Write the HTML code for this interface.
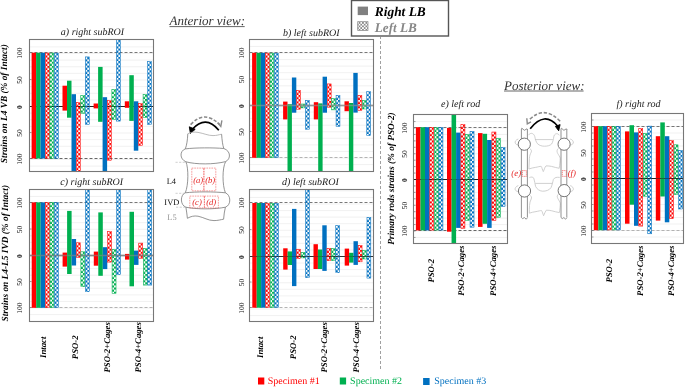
<!DOCTYPE html><html><head><meta charset="utf-8"><style>html,body{margin:0;padding:0;background:#fff;}svg{display:block;will-change:transform;filter:blur(0.35px);}text{font-family:"Liberation Serif",serif;text-rendering:geometricPrecision;}</style></head><body>
<svg width="685" height="387" viewBox="0 0 685 387">
<defs>
<pattern id="pr" x="0" y="0" width="4.2" height="4.3" patternUnits="userSpaceOnUse"><rect width="2.1" height="2.15" fill="#ff0000"/><rect x="2.1" y="2.15" width="2.1" height="2.15" fill="#ff0000"/></pattern>
<pattern id="pg" x="0" y="0" width="4.2" height="4.3" patternUnits="userSpaceOnUse"><rect width="2.1" height="2.15" fill="#00b050"/><rect x="2.1" y="2.15" width="2.1" height="2.15" fill="#00b050"/></pattern>
<pattern id="pb" x="0" y="0" width="4.2" height="4.3" patternUnits="userSpaceOnUse"><rect width="2.1" height="2.15" fill="#0070c0"/><rect x="2.1" y="2.15" width="2.1" height="2.15" fill="#0070c0"/></pattern>
<pattern id="pgray" x="0" y="0" width="3.4" height="3.4" patternUnits="userSpaceOnUse"><rect width="3.4" height="3.4" fill="#fff"/><rect width="1.7" height="1.7" fill="#888"/><rect x="1.7" y="1.7" width="1.7" height="1.7" fill="#888"/></pattern>
<clipPath id="clipa"><rect x="29.5" y="39.5" width="124.0" height="132.0"/></clipPath>
<clipPath id="clipb"><rect x="249.5" y="39.5" width="124.0" height="132.0"/></clipPath>
<clipPath id="clipc"><rect x="29.5" y="189.5" width="124.0" height="132.0"/></clipPath>
<clipPath id="clipd"><rect x="249.5" y="189.5" width="124.0" height="132.0"/></clipPath>
<clipPath id="clipe"><rect x="413.5" y="114.5" width="94.0" height="129.0"/></clipPath>
<clipPath id="clipf"><rect x="591.5" y="113.5" width="92.0" height="130.0"/></clipPath>
<pattern id="pa03" x="45.50" y="53.30" width="3.70" height="4.20" patternUnits="userSpaceOnUse"><rect x="1.85" width="1.85" height="2.1" fill="#ff0000"/><rect y="2.1" width="1.85" height="2.1" fill="#ff0000"/></pattern>
<pattern id="pa04" x="50.00" y="53.30" width="3.70" height="4.20" patternUnits="userSpaceOnUse"><rect x="1.85" width="1.85" height="2.1" fill="#00b050"/><rect y="2.1" width="1.85" height="2.1" fill="#00b050"/></pattern>
<pattern id="pa05" x="54.50" y="53.30" width="3.70" height="4.20" patternUnits="userSpaceOnUse"><rect x="1.85" width="1.85" height="2.1" fill="#0070c0"/><rect y="2.1" width="1.85" height="2.1" fill="#0070c0"/></pattern>
<pattern id="pa13" x="76.40" y="102.80" width="3.70" height="4.20" patternUnits="userSpaceOnUse"><rect x="1.85" width="1.85" height="2.1" fill="#ff0000"/><rect y="2.1" width="1.85" height="2.1" fill="#ff0000"/></pattern>
<pattern id="pa14" x="80.90" y="95.80" width="3.70" height="4.20" patternUnits="userSpaceOnUse"><rect x="1.85" width="1.85" height="2.1" fill="#00b050"/><rect y="2.1" width="1.85" height="2.1" fill="#00b050"/></pattern>
<pattern id="pa15" x="85.40" y="57.20" width="3.70" height="4.20" patternUnits="userSpaceOnUse"><rect x="1.85" width="1.85" height="2.1" fill="#0070c0"/><rect y="2.1" width="1.85" height="2.1" fill="#0070c0"/></pattern>
<pattern id="pa23" x="107.50" y="101.00" width="3.70" height="4.20" patternUnits="userSpaceOnUse"><rect x="1.85" width="1.85" height="2.1" fill="#ff0000"/><rect y="2.1" width="1.85" height="2.1" fill="#ff0000"/></pattern>
<pattern id="pa24" x="112.00" y="89.80" width="3.70" height="4.20" patternUnits="userSpaceOnUse"><rect x="1.85" width="1.85" height="2.1" fill="#00b050"/><rect y="2.1" width="1.85" height="2.1" fill="#00b050"/></pattern>
<pattern id="pa25" x="116.50" y="40.10" width="3.70" height="4.20" patternUnits="userSpaceOnUse"><rect x="1.85" width="1.85" height="2.1" fill="#0070c0"/><rect y="2.1" width="1.85" height="2.1" fill="#0070c0"/></pattern>
<pattern id="pa33" x="138.70" y="103.80" width="3.70" height="4.20" patternUnits="userSpaceOnUse"><rect x="1.85" width="1.85" height="2.1" fill="#ff0000"/><rect y="2.1" width="1.85" height="2.1" fill="#ff0000"/></pattern>
<pattern id="pa34" x="143.20" y="94.80" width="3.70" height="4.20" patternUnits="userSpaceOnUse"><rect x="1.85" width="1.85" height="2.1" fill="#00b050"/><rect y="2.1" width="1.85" height="2.1" fill="#00b050"/></pattern>
<pattern id="pa35" x="147.70" y="61.90" width="3.70" height="4.20" patternUnits="userSpaceOnUse"><rect x="1.85" width="1.85" height="2.1" fill="#0070c0"/><rect y="2.1" width="1.85" height="2.1" fill="#0070c0"/></pattern>
<pattern id="pb03" x="265.70" y="53.40" width="3.60" height="4.20" patternUnits="userSpaceOnUse"><rect x="1.80" width="1.80" height="2.1" fill="#ff0000"/><rect y="2.1" width="1.80" height="2.1" fill="#ff0000"/></pattern>
<pattern id="pb04" x="270.10" y="53.40" width="3.60" height="4.20" patternUnits="userSpaceOnUse"><rect x="1.80" width="1.80" height="2.1" fill="#00b050"/><rect y="2.1" width="1.80" height="2.1" fill="#00b050"/></pattern>
<pattern id="pb05" x="274.50" y="53.40" width="3.60" height="4.20" patternUnits="userSpaceOnUse"><rect x="1.80" width="1.80" height="2.1" fill="#0070c0"/><rect y="2.1" width="1.80" height="2.1" fill="#0070c0"/></pattern>
<pattern id="pb13" x="296.70" y="90.80" width="3.60" height="4.20" patternUnits="userSpaceOnUse"><rect x="1.80" width="1.80" height="2.1" fill="#ff0000"/><rect y="2.1" width="1.80" height="2.1" fill="#ff0000"/></pattern>
<pattern id="pb14" x="301.10" y="104.30" width="3.60" height="4.20" patternUnits="userSpaceOnUse"><rect x="1.80" width="1.80" height="2.1" fill="#00b050"/><rect y="2.1" width="1.80" height="2.1" fill="#00b050"/></pattern>
<pattern id="pb15" x="305.50" y="100.60" width="3.60" height="4.20" patternUnits="userSpaceOnUse"><rect x="1.80" width="1.80" height="2.1" fill="#0070c0"/><rect y="2.1" width="1.80" height="2.1" fill="#0070c0"/></pattern>
<pattern id="pb23" x="327.40" y="84.20" width="3.60" height="4.20" patternUnits="userSpaceOnUse"><rect x="1.80" width="1.80" height="2.1" fill="#ff0000"/><rect y="2.1" width="1.80" height="2.1" fill="#ff0000"/></pattern>
<pattern id="pb24" x="331.80" y="98.80" width="3.60" height="4.20" patternUnits="userSpaceOnUse"><rect x="1.80" width="1.80" height="2.1" fill="#00b050"/><rect y="2.1" width="1.80" height="2.1" fill="#00b050"/></pattern>
<pattern id="pb25" x="336.20" y="95.80" width="3.60" height="4.20" patternUnits="userSpaceOnUse"><rect x="1.80" width="1.80" height="2.1" fill="#0070c0"/><rect y="2.1" width="1.80" height="2.1" fill="#0070c0"/></pattern>
<pattern id="pb33" x="358.10" y="95.70" width="3.60" height="4.20" patternUnits="userSpaceOnUse"><rect x="1.80" width="1.80" height="2.1" fill="#ff0000"/><rect y="2.1" width="1.80" height="2.1" fill="#ff0000"/></pattern>
<pattern id="pb34" x="362.50" y="100.60" width="3.60" height="4.20" patternUnits="userSpaceOnUse"><rect x="1.80" width="1.80" height="2.1" fill="#00b050"/><rect y="2.1" width="1.80" height="2.1" fill="#00b050"/></pattern>
<pattern id="pb35" x="366.90" y="92.00" width="3.60" height="4.20" patternUnits="userSpaceOnUse"><rect x="1.80" width="1.80" height="2.1" fill="#0070c0"/><rect y="2.1" width="1.80" height="2.1" fill="#0070c0"/></pattern>
<pattern id="pc03" x="45.60" y="203.00" width="3.70" height="4.20" patternUnits="userSpaceOnUse"><rect x="1.85" width="1.85" height="2.1" fill="#ff0000"/><rect y="2.1" width="1.85" height="2.1" fill="#ff0000"/></pattern>
<pattern id="pc04" x="50.10" y="203.00" width="3.70" height="4.20" patternUnits="userSpaceOnUse"><rect x="1.85" width="1.85" height="2.1" fill="#00b050"/><rect y="2.1" width="1.85" height="2.1" fill="#00b050"/></pattern>
<pattern id="pc05" x="54.60" y="203.00" width="3.70" height="4.20" patternUnits="userSpaceOnUse"><rect x="1.85" width="1.85" height="2.1" fill="#0070c0"/><rect y="2.1" width="1.85" height="2.1" fill="#0070c0"/></pattern>
<pattern id="pc13" x="76.50" y="243.10" width="3.70" height="4.20" patternUnits="userSpaceOnUse"><rect x="1.85" width="1.85" height="2.1" fill="#ff0000"/><rect y="2.1" width="1.85" height="2.1" fill="#ff0000"/></pattern>
<pattern id="pc14" x="81.00" y="252.10" width="3.70" height="4.20" patternUnits="userSpaceOnUse"><rect x="1.85" width="1.85" height="2.1" fill="#00b050"/><rect y="2.1" width="1.85" height="2.1" fill="#00b050"/></pattern>
<pattern id="pc15" x="85.50" y="190.10" width="3.70" height="4.20" patternUnits="userSpaceOnUse"><rect x="1.85" width="1.85" height="2.1" fill="#0070c0"/><rect y="2.1" width="1.85" height="2.1" fill="#0070c0"/></pattern>
<pattern id="pc23" x="107.70" y="231.90" width="3.70" height="4.20" patternUnits="userSpaceOnUse"><rect x="1.85" width="1.85" height="2.1" fill="#ff0000"/><rect y="2.1" width="1.85" height="2.1" fill="#ff0000"/></pattern>
<pattern id="pc24" x="112.20" y="249.70" width="3.70" height="4.20" patternUnits="userSpaceOnUse"><rect x="1.85" width="1.85" height="2.1" fill="#00b050"/><rect y="2.1" width="1.85" height="2.1" fill="#00b050"/></pattern>
<pattern id="pc25" x="116.70" y="190.10" width="3.70" height="4.20" patternUnits="userSpaceOnUse"><rect x="1.85" width="1.85" height="2.1" fill="#0070c0"/><rect y="2.1" width="1.85" height="2.1" fill="#0070c0"/></pattern>
<pattern id="pc33" x="138.90" y="243.40" width="3.70" height="4.20" patternUnits="userSpaceOnUse"><rect x="1.85" width="1.85" height="2.1" fill="#ff0000"/><rect y="2.1" width="1.85" height="2.1" fill="#ff0000"/></pattern>
<pattern id="pc34" x="143.40" y="248.70" width="3.70" height="4.20" patternUnits="userSpaceOnUse"><rect x="1.85" width="1.85" height="2.1" fill="#00b050"/><rect y="2.1" width="1.85" height="2.1" fill="#00b050"/></pattern>
<pattern id="pc35" x="147.90" y="190.10" width="3.70" height="4.20" patternUnits="userSpaceOnUse"><rect x="1.85" width="1.85" height="2.1" fill="#0070c0"/><rect y="2.1" width="1.85" height="2.1" fill="#0070c0"/></pattern>
<pattern id="pd03" x="265.90" y="203.60" width="3.60" height="4.20" patternUnits="userSpaceOnUse"><rect x="1.80" width="1.80" height="2.1" fill="#ff0000"/><rect y="2.1" width="1.80" height="2.1" fill="#ff0000"/></pattern>
<pattern id="pd04" x="270.30" y="203.60" width="3.60" height="4.20" patternUnits="userSpaceOnUse"><rect x="1.80" width="1.80" height="2.1" fill="#00b050"/><rect y="2.1" width="1.80" height="2.1" fill="#00b050"/></pattern>
<pattern id="pd05" x="274.70" y="203.60" width="3.60" height="4.20" patternUnits="userSpaceOnUse"><rect x="1.80" width="1.80" height="2.1" fill="#0070c0"/><rect y="2.1" width="1.80" height="2.1" fill="#0070c0"/></pattern>
<pattern id="pd13" x="296.80" y="249.50" width="3.60" height="4.20" patternUnits="userSpaceOnUse"><rect x="1.80" width="1.80" height="2.1" fill="#ff0000"/><rect y="2.1" width="1.80" height="2.1" fill="#ff0000"/></pattern>
<pattern id="pd14" x="301.20" y="252.60" width="3.60" height="4.20" patternUnits="userSpaceOnUse"><rect x="1.80" width="1.80" height="2.1" fill="#00b050"/><rect y="2.1" width="1.80" height="2.1" fill="#00b050"/></pattern>
<pattern id="pd15" x="305.60" y="190.10" width="3.60" height="4.20" patternUnits="userSpaceOnUse"><rect x="1.80" width="1.80" height="2.1" fill="#0070c0"/><rect y="2.1" width="1.80" height="2.1" fill="#0070c0"/></pattern>
<pattern id="pd23" x="327.10" y="248.70" width="3.60" height="4.20" patternUnits="userSpaceOnUse"><rect x="1.80" width="1.80" height="2.1" fill="#ff0000"/><rect y="2.1" width="1.80" height="2.1" fill="#ff0000"/></pattern>
<pattern id="pd24" x="331.50" y="248.70" width="3.60" height="4.20" patternUnits="userSpaceOnUse"><rect x="1.80" width="1.80" height="2.1" fill="#00b050"/><rect y="2.1" width="1.80" height="2.1" fill="#00b050"/></pattern>
<pattern id="pd25" x="335.90" y="225.90" width="3.60" height="4.20" patternUnits="userSpaceOnUse"><rect x="1.80" width="1.80" height="2.1" fill="#0070c0"/><rect y="2.1" width="1.80" height="2.1" fill="#0070c0"/></pattern>
<pattern id="pd33" x="358.30" y="245.70" width="3.60" height="4.20" patternUnits="userSpaceOnUse"><rect x="1.80" width="1.80" height="2.1" fill="#ff0000"/><rect y="2.1" width="1.80" height="2.1" fill="#ff0000"/></pattern>
<pattern id="pd34" x="362.70" y="250.60" width="3.60" height="4.20" patternUnits="userSpaceOnUse"><rect x="1.80" width="1.80" height="2.1" fill="#00b050"/><rect y="2.1" width="1.80" height="2.1" fill="#00b050"/></pattern>
<pattern id="pd35" x="367.10" y="217.80" width="3.60" height="4.20" patternUnits="userSpaceOnUse"><rect x="1.80" width="1.80" height="2.1" fill="#0070c0"/><rect y="2.1" width="1.80" height="2.1" fill="#0070c0"/></pattern>
<pattern id="pe03" x="429.95" y="127.80" width="3.75" height="4.20" patternUnits="userSpaceOnUse"><rect x="1.88" width="1.88" height="2.1" fill="#ff0000"/><rect y="2.1" width="1.88" height="2.1" fill="#ff0000"/></pattern>
<pattern id="pe04" x="434.50" y="127.80" width="3.75" height="4.20" patternUnits="userSpaceOnUse"><rect x="1.88" width="1.88" height="2.1" fill="#00b050"/><rect y="2.1" width="1.88" height="2.1" fill="#00b050"/></pattern>
<pattern id="pe05" x="439.05" y="127.80" width="3.75" height="4.20" patternUnits="userSpaceOnUse"><rect x="1.88" width="1.88" height="2.1" fill="#0070c0"/><rect y="2.1" width="1.88" height="2.1" fill="#0070c0"/></pattern>
<pattern id="pe13" x="461.05" y="124.90" width="3.75" height="4.20" patternUnits="userSpaceOnUse"><rect x="1.88" width="1.88" height="2.1" fill="#ff0000"/><rect y="2.1" width="1.88" height="2.1" fill="#ff0000"/></pattern>
<pattern id="pe14" x="465.60" y="134.70" width="3.75" height="4.20" patternUnits="userSpaceOnUse"><rect x="1.88" width="1.88" height="2.1" fill="#00b050"/><rect y="2.1" width="1.88" height="2.1" fill="#00b050"/></pattern>
<pattern id="pe15" x="470.15" y="131.60" width="3.75" height="4.20" patternUnits="userSpaceOnUse"><rect x="1.88" width="1.88" height="2.1" fill="#0070c0"/><rect y="2.1" width="1.88" height="2.1" fill="#0070c0"/></pattern>
<pattern id="pe23" x="492.05" y="132.30" width="3.75" height="4.20" patternUnits="userSpaceOnUse"><rect x="1.88" width="1.88" height="2.1" fill="#ff0000"/><rect y="2.1" width="1.88" height="2.1" fill="#ff0000"/></pattern>
<pattern id="pe24" x="496.60" y="138.50" width="3.75" height="4.20" patternUnits="userSpaceOnUse"><rect x="1.88" width="1.88" height="2.1" fill="#00b050"/><rect y="2.1" width="1.88" height="2.1" fill="#00b050"/></pattern>
<pattern id="pe25" x="501.15" y="147.80" width="3.75" height="4.20" patternUnits="userSpaceOnUse"><rect x="1.88" width="1.88" height="2.1" fill="#0070c0"/><rect y="2.1" width="1.88" height="2.1" fill="#0070c0"/></pattern>
<pattern id="pf03" x="607.70" y="126.80" width="3.70" height="4.20" patternUnits="userSpaceOnUse"><rect x="1.85" width="1.85" height="2.1" fill="#ff0000"/><rect y="2.1" width="1.85" height="2.1" fill="#ff0000"/></pattern>
<pattern id="pf04" x="612.20" y="126.80" width="3.70" height="4.20" patternUnits="userSpaceOnUse"><rect x="1.85" width="1.85" height="2.1" fill="#00b050"/><rect y="2.1" width="1.85" height="2.1" fill="#00b050"/></pattern>
<pattern id="pf05" x="616.70" y="126.80" width="3.70" height="4.20" patternUnits="userSpaceOnUse"><rect x="1.85" width="1.85" height="2.1" fill="#0070c0"/><rect y="2.1" width="1.85" height="2.1" fill="#0070c0"/></pattern>
<pattern id="pf13" x="638.90" y="128.90" width="3.70" height="4.20" patternUnits="userSpaceOnUse"><rect x="1.85" width="1.85" height="2.1" fill="#ff0000"/><rect y="2.1" width="1.85" height="2.1" fill="#ff0000"/></pattern>
<pattern id="pf14" x="643.40" y="133.60" width="3.70" height="4.20" patternUnits="userSpaceOnUse"><rect x="1.85" width="1.85" height="2.1" fill="#00b050"/><rect y="2.1" width="1.85" height="2.1" fill="#00b050"/></pattern>
<pattern id="pf15" x="647.90" y="126.40" width="3.70" height="4.20" patternUnits="userSpaceOnUse"><rect x="1.85" width="1.85" height="2.1" fill="#0070c0"/><rect y="2.1" width="1.85" height="2.1" fill="#0070c0"/></pattern>
<pattern id="pf23" x="669.70" y="141.00" width="3.70" height="4.20" patternUnits="userSpaceOnUse"><rect x="1.85" width="1.85" height="2.1" fill="#ff0000"/><rect y="2.1" width="1.85" height="2.1" fill="#ff0000"/></pattern>
<pattern id="pf24" x="674.20" y="145.10" width="3.70" height="4.20" patternUnits="userSpaceOnUse"><rect x="1.85" width="1.85" height="2.1" fill="#00b050"/><rect y="2.1" width="1.85" height="2.1" fill="#00b050"/></pattern>
<pattern id="pf25" x="678.70" y="150.70" width="3.70" height="4.20" patternUnits="userSpaceOnUse"><rect x="1.85" width="1.85" height="2.1" fill="#0070c0"/><rect y="2.1" width="1.85" height="2.1" fill="#0070c0"/></pattern>
</defs>
<rect width="685" height="387" fill="#fff"/>
<line x1="29.5" y1="46.88" x2="153.5" y2="46.88" stroke="#eeeeee" stroke-width="0.8"/>
<line x1="29.5" y1="53.50" x2="153.5" y2="53.50" stroke="#eeeeee" stroke-width="0.8"/>
<line x1="29.5" y1="60.12" x2="153.5" y2="60.12" stroke="#eeeeee" stroke-width="0.8"/>
<line x1="29.5" y1="66.75" x2="153.5" y2="66.75" stroke="#eeeeee" stroke-width="0.8"/>
<line x1="29.5" y1="73.38" x2="153.5" y2="73.38" stroke="#eeeeee" stroke-width="0.8"/>
<line x1="29.5" y1="80.00" x2="153.5" y2="80.00" stroke="#eeeeee" stroke-width="0.8"/>
<line x1="29.5" y1="86.62" x2="153.5" y2="86.62" stroke="#eeeeee" stroke-width="0.8"/>
<line x1="29.5" y1="93.25" x2="153.5" y2="93.25" stroke="#eeeeee" stroke-width="0.8"/>
<line x1="29.5" y1="99.88" x2="153.5" y2="99.88" stroke="#eeeeee" stroke-width="0.8"/>
<line x1="29.5" y1="106.50" x2="153.5" y2="106.50" stroke="#eeeeee" stroke-width="0.8"/>
<line x1="29.5" y1="113.12" x2="153.5" y2="113.12" stroke="#eeeeee" stroke-width="0.8"/>
<line x1="29.5" y1="119.75" x2="153.5" y2="119.75" stroke="#eeeeee" stroke-width="0.8"/>
<line x1="29.5" y1="126.38" x2="153.5" y2="126.38" stroke="#eeeeee" stroke-width="0.8"/>
<line x1="29.5" y1="133.00" x2="153.5" y2="133.00" stroke="#eeeeee" stroke-width="0.8"/>
<line x1="29.5" y1="139.62" x2="153.5" y2="139.62" stroke="#eeeeee" stroke-width="0.8"/>
<line x1="29.5" y1="146.25" x2="153.5" y2="146.25" stroke="#eeeeee" stroke-width="0.8"/>
<line x1="29.5" y1="152.88" x2="153.5" y2="152.88" stroke="#eeeeee" stroke-width="0.8"/>
<line x1="29.5" y1="159.50" x2="153.5" y2="159.50" stroke="#eeeeee" stroke-width="0.8"/>
<line x1="29.5" y1="166.12" x2="153.5" y2="166.12" stroke="#eeeeee" stroke-width="0.8"/>
<line x1="29.5" y1="52.5" x2="153.5" y2="52.5" stroke="#555" stroke-width="0.8" stroke-dasharray="3,2"/>
<line x1="29.5" y1="158.5" x2="153.5" y2="158.5" stroke="#555" stroke-width="0.9" stroke-dasharray="3,2"/>
<line x1="29.5" y1="52.50" x2="31.5" y2="52.50" stroke="#777" stroke-width="0.7"/>
<line x1="29.5" y1="79.50" x2="31.5" y2="79.50" stroke="#777" stroke-width="0.7"/>
<line x1="29.5" y1="106.50" x2="31.5" y2="106.50" stroke="#777" stroke-width="0.7"/>
<line x1="29.5" y1="132.50" x2="31.5" y2="132.50" stroke="#777" stroke-width="0.7"/>
<line x1="29.5" y1="158.50" x2="31.5" y2="158.50" stroke="#777" stroke-width="0.7"/>
<line x1="29.5" y1="106.5" x2="153.5" y2="106.5" stroke="#222" stroke-width="1.0"/>
<g clip-path="url(#clipa)">
<rect x="31.60" y="52.7" width="4.50" height="105.80" fill="#ff0000"/>
<rect x="36.10" y="52.7" width="4.50" height="105.80" fill="#00b050"/>
<rect x="40.60" y="52.7" width="4.50" height="105.80" fill="#0070c0"/>
<rect x="45.35" y="53.00" width="4.00" height="105.20" fill="url(#pa03)" stroke="#ff0000" stroke-width="0.5"/>
<rect x="49.85" y="53.00" width="4.00" height="105.20" fill="url(#pa04)" stroke="#00b050" stroke-width="0.5"/>
<rect x="54.35" y="53.00" width="4.00" height="105.20" fill="url(#pa05)" stroke="#0070c0" stroke-width="0.5"/>
<rect x="62.50" y="85.7" width="4.50" height="24.90" fill="#ff0000"/>
<rect x="67.00" y="80.7" width="4.50" height="37.00" fill="#00b050"/>
<rect x="71.50" y="94.2" width="4.50" height="77.30" fill="#0070c0"/>
<rect x="76.25" y="102.50" width="4.00" height="68.70" fill="url(#pa13)" stroke="#ff0000" stroke-width="0.5"/>
<rect x="80.75" y="95.50" width="4.00" height="17.80" fill="url(#pa14)" stroke="#00b050" stroke-width="0.5"/>
<rect x="85.25" y="56.90" width="4.00" height="67.40" fill="url(#pa15)" stroke="#0070c0" stroke-width="0.5"/>
<rect x="93.60" y="103.5" width="4.50" height="4.90" fill="#ff0000"/>
<rect x="98.10" y="66.9" width="4.50" height="54.90" fill="#00b050"/>
<rect x="102.60" y="97.2" width="4.50" height="74.30" fill="#0070c0"/>
<rect x="107.35" y="100.70" width="4.00" height="59.50" fill="url(#pa23)" stroke="#ff0000" stroke-width="0.5"/>
<rect x="111.85" y="89.50" width="4.00" height="29.80" fill="url(#pa24)" stroke="#00b050" stroke-width="0.5"/>
<rect x="116.35" y="39.80" width="4.00" height="81.30" fill="url(#pa25)" stroke="#0070c0" stroke-width="0.5"/>
<rect x="124.80" y="101.3" width="4.50" height="6.50" fill="#ff0000"/>
<rect x="129.30" y="75.2" width="4.50" height="45.70" fill="#00b050"/>
<rect x="133.80" y="101.3" width="4.50" height="49.40" fill="#0070c0"/>
<rect x="138.55" y="103.50" width="4.00" height="41.80" fill="url(#pa33)" stroke="#ff0000" stroke-width="0.5"/>
<rect x="143.05" y="94.50" width="4.00" height="22.90" fill="url(#pa34)" stroke="#00b050" stroke-width="0.5"/>
<rect x="147.55" y="61.60" width="4.00" height="62.70" fill="url(#pa35)" stroke="#0070c0" stroke-width="0.5"/>
</g>
<line x1="29.5" y1="106.5" x2="153.5" y2="106.5" stroke="#222" stroke-width="1.0" stroke-opacity="0.0"/>
<rect x="29.5" y="39.5" width="124.0" height="132.0" fill="none" stroke="#777" stroke-width="1.1"/>
<line x1="249.5" y1="46.44" x2="373.5" y2="46.44" stroke="#eeeeee" stroke-width="0.8"/>
<line x1="249.5" y1="53.00" x2="373.5" y2="53.00" stroke="#eeeeee" stroke-width="0.8"/>
<line x1="249.5" y1="59.56" x2="373.5" y2="59.56" stroke="#eeeeee" stroke-width="0.8"/>
<line x1="249.5" y1="66.12" x2="373.5" y2="66.12" stroke="#eeeeee" stroke-width="0.8"/>
<line x1="249.5" y1="72.69" x2="373.5" y2="72.69" stroke="#eeeeee" stroke-width="0.8"/>
<line x1="249.5" y1="79.25" x2="373.5" y2="79.25" stroke="#eeeeee" stroke-width="0.8"/>
<line x1="249.5" y1="85.81" x2="373.5" y2="85.81" stroke="#eeeeee" stroke-width="0.8"/>
<line x1="249.5" y1="92.38" x2="373.5" y2="92.38" stroke="#eeeeee" stroke-width="0.8"/>
<line x1="249.5" y1="98.94" x2="373.5" y2="98.94" stroke="#eeeeee" stroke-width="0.8"/>
<line x1="249.5" y1="105.50" x2="373.5" y2="105.50" stroke="#eeeeee" stroke-width="0.8"/>
<line x1="249.5" y1="112.06" x2="373.5" y2="112.06" stroke="#eeeeee" stroke-width="0.8"/>
<line x1="249.5" y1="118.62" x2="373.5" y2="118.62" stroke="#eeeeee" stroke-width="0.8"/>
<line x1="249.5" y1="125.19" x2="373.5" y2="125.19" stroke="#eeeeee" stroke-width="0.8"/>
<line x1="249.5" y1="131.75" x2="373.5" y2="131.75" stroke="#eeeeee" stroke-width="0.8"/>
<line x1="249.5" y1="138.31" x2="373.5" y2="138.31" stroke="#eeeeee" stroke-width="0.8"/>
<line x1="249.5" y1="144.88" x2="373.5" y2="144.88" stroke="#eeeeee" stroke-width="0.8"/>
<line x1="249.5" y1="151.44" x2="373.5" y2="151.44" stroke="#eeeeee" stroke-width="0.8"/>
<line x1="249.5" y1="158.00" x2="373.5" y2="158.00" stroke="#eeeeee" stroke-width="0.8"/>
<line x1="249.5" y1="164.56" x2="373.5" y2="164.56" stroke="#eeeeee" stroke-width="0.8"/>
<line x1="249.5" y1="52.5" x2="373.5" y2="52.5" stroke="#555" stroke-width="0.8" stroke-dasharray="3,2"/>
<line x1="249.5" y1="157.5" x2="373.5" y2="157.5" stroke="#aaa" stroke-width="0.9" stroke-dasharray="3,2"/>
<line x1="249.5" y1="52.50" x2="251.5" y2="52.50" stroke="#777" stroke-width="0.7"/>
<line x1="249.5" y1="79.00" x2="251.5" y2="79.00" stroke="#777" stroke-width="0.7"/>
<line x1="249.5" y1="105.50" x2="251.5" y2="105.50" stroke="#777" stroke-width="0.7"/>
<line x1="249.5" y1="131.50" x2="251.5" y2="131.50" stroke="#777" stroke-width="0.7"/>
<line x1="249.5" y1="157.50" x2="251.5" y2="157.50" stroke="#777" stroke-width="0.7"/>
<line x1="249.5" y1="105.5" x2="373.5" y2="105.5" stroke="#999" stroke-width="1.4"/>
<g clip-path="url(#clipb)">
<rect x="252.10" y="52.8" width="4.40" height="105.00" fill="#ff0000"/>
<rect x="256.50" y="52.8" width="4.40" height="105.00" fill="#00b050"/>
<rect x="260.90" y="52.8" width="4.40" height="105.00" fill="#0070c0"/>
<rect x="265.55" y="53.10" width="3.90" height="104.40" fill="url(#pb03)" stroke="#ff0000" stroke-width="0.5"/>
<rect x="269.95" y="53.10" width="3.90" height="104.40" fill="url(#pb04)" stroke="#00b050" stroke-width="0.5"/>
<rect x="274.35" y="53.10" width="3.90" height="104.40" fill="url(#pb05)" stroke="#0070c0" stroke-width="0.5"/>
<rect x="283.10" y="101.6" width="4.40" height="17.80" fill="#ff0000"/>
<rect x="287.50" y="104.2" width="4.40" height="67.30" fill="#00b050"/>
<rect x="291.90" y="77.5" width="4.40" height="35.20" fill="#0070c0"/>
<rect x="296.55" y="90.50" width="3.90" height="18.70" fill="url(#pb13)" stroke="#ff0000" stroke-width="0.5"/>
<rect x="300.95" y="104.00" width="3.90" height="3.90" fill="url(#pb14)" stroke="#00b050" stroke-width="0.5"/>
<rect x="305.35" y="100.30" width="3.90" height="28.90" fill="url(#pb15)" stroke="#0070c0" stroke-width="0.5"/>
<rect x="313.80" y="102.2" width="4.40" height="17.20" fill="#ff0000"/>
<rect x="318.20" y="103.4" width="4.40" height="68.10" fill="#00b050"/>
<rect x="322.60" y="76.7" width="4.40" height="36.00" fill="#0070c0"/>
<rect x="327.25" y="83.90" width="3.90" height="23.30" fill="url(#pb23)" stroke="#ff0000" stroke-width="0.5"/>
<rect x="331.65" y="98.50" width="3.90" height="11.40" fill="url(#pb24)" stroke="#00b050" stroke-width="0.5"/>
<rect x="336.05" y="95.50" width="3.90" height="30.80" fill="url(#pb25)" stroke="#0070c0" stroke-width="0.5"/>
<rect x="344.50" y="101.3" width="4.40" height="9.90" fill="#ff0000"/>
<rect x="348.90" y="103" width="4.40" height="68.50" fill="#00b050"/>
<rect x="353.30" y="72.9" width="4.40" height="39.70" fill="#0070c0"/>
<rect x="357.95" y="95.40" width="3.90" height="15.00" fill="url(#pb33)" stroke="#ff0000" stroke-width="0.5"/>
<rect x="362.35" y="100.30" width="3.90" height="8.70" fill="url(#pb34)" stroke="#00b050" stroke-width="0.5"/>
<rect x="366.75" y="91.70" width="3.90" height="43.90" fill="url(#pb35)" stroke="#0070c0" stroke-width="0.5"/>
</g>
<line x1="249.5" y1="105.5" x2="373.5" y2="105.5" stroke="#999" stroke-width="1.4" stroke-opacity="0.6"/>
<rect x="249.5" y="39.5" width="124.0" height="132.0" fill="none" stroke="#777" stroke-width="1.1"/>
<line x1="29.5" y1="196.44" x2="153.5" y2="196.44" stroke="#eeeeee" stroke-width="0.8"/>
<line x1="29.5" y1="203.00" x2="153.5" y2="203.00" stroke="#eeeeee" stroke-width="0.8"/>
<line x1="29.5" y1="209.56" x2="153.5" y2="209.56" stroke="#eeeeee" stroke-width="0.8"/>
<line x1="29.5" y1="216.12" x2="153.5" y2="216.12" stroke="#eeeeee" stroke-width="0.8"/>
<line x1="29.5" y1="222.69" x2="153.5" y2="222.69" stroke="#eeeeee" stroke-width="0.8"/>
<line x1="29.5" y1="229.25" x2="153.5" y2="229.25" stroke="#eeeeee" stroke-width="0.8"/>
<line x1="29.5" y1="235.81" x2="153.5" y2="235.81" stroke="#eeeeee" stroke-width="0.8"/>
<line x1="29.5" y1="242.38" x2="153.5" y2="242.38" stroke="#eeeeee" stroke-width="0.8"/>
<line x1="29.5" y1="248.94" x2="153.5" y2="248.94" stroke="#eeeeee" stroke-width="0.8"/>
<line x1="29.5" y1="255.50" x2="153.5" y2="255.50" stroke="#eeeeee" stroke-width="0.8"/>
<line x1="29.5" y1="262.06" x2="153.5" y2="262.06" stroke="#eeeeee" stroke-width="0.8"/>
<line x1="29.5" y1="268.62" x2="153.5" y2="268.62" stroke="#eeeeee" stroke-width="0.8"/>
<line x1="29.5" y1="275.19" x2="153.5" y2="275.19" stroke="#eeeeee" stroke-width="0.8"/>
<line x1="29.5" y1="281.75" x2="153.5" y2="281.75" stroke="#eeeeee" stroke-width="0.8"/>
<line x1="29.5" y1="288.31" x2="153.5" y2="288.31" stroke="#eeeeee" stroke-width="0.8"/>
<line x1="29.5" y1="294.88" x2="153.5" y2="294.88" stroke="#eeeeee" stroke-width="0.8"/>
<line x1="29.5" y1="301.44" x2="153.5" y2="301.44" stroke="#eeeeee" stroke-width="0.8"/>
<line x1="29.5" y1="308.00" x2="153.5" y2="308.00" stroke="#eeeeee" stroke-width="0.8"/>
<line x1="29.5" y1="314.56" x2="153.5" y2="314.56" stroke="#eeeeee" stroke-width="0.8"/>
<line x1="29.5" y1="202.5" x2="153.5" y2="202.5" stroke="#555" stroke-width="0.8" stroke-dasharray="3,2"/>
<line x1="29.5" y1="307.5" x2="153.5" y2="307.5" stroke="#aaa" stroke-width="0.9" stroke-dasharray="3,2"/>
<line x1="29.5" y1="202.50" x2="31.5" y2="202.50" stroke="#777" stroke-width="0.7"/>
<line x1="29.5" y1="229.00" x2="31.5" y2="229.00" stroke="#777" stroke-width="0.7"/>
<line x1="29.5" y1="255.50" x2="31.5" y2="255.50" stroke="#777" stroke-width="0.7"/>
<line x1="29.5" y1="281.50" x2="31.5" y2="281.50" stroke="#777" stroke-width="0.7"/>
<line x1="29.5" y1="307.50" x2="31.5" y2="307.50" stroke="#777" stroke-width="0.7"/>
<line x1="29.5" y1="255.5" x2="153.5" y2="255.5" stroke="#888" stroke-width="1.4"/>
<g clip-path="url(#clipc)">
<rect x="31.70" y="202.4" width="4.50" height="105.40" fill="#ff0000"/>
<rect x="36.20" y="202.4" width="4.50" height="105.40" fill="#00b050"/>
<rect x="40.70" y="202.4" width="4.50" height="105.40" fill="#0070c0"/>
<rect x="45.45" y="202.70" width="4.00" height="104.80" fill="url(#pc03)" stroke="#ff0000" stroke-width="0.5"/>
<rect x="49.95" y="202.70" width="4.00" height="104.80" fill="url(#pc04)" stroke="#00b050" stroke-width="0.5"/>
<rect x="54.45" y="202.70" width="4.00" height="104.80" fill="url(#pc05)" stroke="#0070c0" stroke-width="0.5"/>
<rect x="62.60" y="252.6" width="4.50" height="14.00" fill="#ff0000"/>
<rect x="67.10" y="210.9" width="4.50" height="63.10" fill="#00b050"/>
<rect x="71.60" y="239" width="4.50" height="26.50" fill="#0070c0"/>
<rect x="76.35" y="242.80" width="4.00" height="14.70" fill="url(#pc13)" stroke="#ff0000" stroke-width="0.5"/>
<rect x="80.85" y="251.80" width="4.00" height="34.80" fill="url(#pc14)" stroke="#00b050" stroke-width="0.5"/>
<rect x="85.35" y="189.80" width="4.00" height="101.90" fill="url(#pc15)" stroke="#0070c0" stroke-width="0.5"/>
<rect x="93.80" y="251.6" width="4.50" height="14.10" fill="#ff0000"/>
<rect x="98.30" y="212.4" width="4.50" height="63.40" fill="#00b050"/>
<rect x="102.80" y="247.2" width="4.50" height="21.90" fill="#0070c0"/>
<rect x="107.55" y="231.60" width="4.00" height="30.50" fill="url(#pc23)" stroke="#ff0000" stroke-width="0.5"/>
<rect x="112.05" y="249.40" width="4.00" height="43.90" fill="url(#pc24)" stroke="#00b050" stroke-width="0.5"/>
<rect x="116.55" y="189.80" width="4.00" height="84.80" fill="url(#pc25)" stroke="#0070c0" stroke-width="0.5"/>
<rect x="125.00" y="253.9" width="4.50" height="5.70" fill="#ff0000"/>
<rect x="129.50" y="211.8" width="4.50" height="74.50" fill="#00b050"/>
<rect x="134.00" y="250.6" width="4.50" height="14.30" fill="#0070c0"/>
<rect x="138.75" y="243.10" width="4.00" height="15.20" fill="url(#pc33)" stroke="#ff0000" stroke-width="0.5"/>
<rect x="143.25" y="248.40" width="4.00" height="36.70" fill="url(#pc34)" stroke="#00b050" stroke-width="0.5"/>
<rect x="147.75" y="189.80" width="4.00" height="95.30" fill="url(#pc35)" stroke="#0070c0" stroke-width="0.5"/>
</g>
<line x1="29.5" y1="255.5" x2="153.5" y2="255.5" stroke="#888" stroke-width="1.4" stroke-opacity="0.6"/>
<rect x="29.5" y="189.5" width="124.0" height="132.0" fill="none" stroke="#777" stroke-width="1.1"/>
<line x1="249.5" y1="190.88" x2="373.5" y2="190.88" stroke="#eeeeee" stroke-width="0.8"/>
<line x1="249.5" y1="197.44" x2="373.5" y2="197.44" stroke="#eeeeee" stroke-width="0.8"/>
<line x1="249.5" y1="204.00" x2="373.5" y2="204.00" stroke="#eeeeee" stroke-width="0.8"/>
<line x1="249.5" y1="210.56" x2="373.5" y2="210.56" stroke="#eeeeee" stroke-width="0.8"/>
<line x1="249.5" y1="217.12" x2="373.5" y2="217.12" stroke="#eeeeee" stroke-width="0.8"/>
<line x1="249.5" y1="223.69" x2="373.5" y2="223.69" stroke="#eeeeee" stroke-width="0.8"/>
<line x1="249.5" y1="230.25" x2="373.5" y2="230.25" stroke="#eeeeee" stroke-width="0.8"/>
<line x1="249.5" y1="236.81" x2="373.5" y2="236.81" stroke="#eeeeee" stroke-width="0.8"/>
<line x1="249.5" y1="243.38" x2="373.5" y2="243.38" stroke="#eeeeee" stroke-width="0.8"/>
<line x1="249.5" y1="249.94" x2="373.5" y2="249.94" stroke="#eeeeee" stroke-width="0.8"/>
<line x1="249.5" y1="256.50" x2="373.5" y2="256.50" stroke="#eeeeee" stroke-width="0.8"/>
<line x1="249.5" y1="263.06" x2="373.5" y2="263.06" stroke="#eeeeee" stroke-width="0.8"/>
<line x1="249.5" y1="269.62" x2="373.5" y2="269.62" stroke="#eeeeee" stroke-width="0.8"/>
<line x1="249.5" y1="276.19" x2="373.5" y2="276.19" stroke="#eeeeee" stroke-width="0.8"/>
<line x1="249.5" y1="282.75" x2="373.5" y2="282.75" stroke="#eeeeee" stroke-width="0.8"/>
<line x1="249.5" y1="289.31" x2="373.5" y2="289.31" stroke="#eeeeee" stroke-width="0.8"/>
<line x1="249.5" y1="295.88" x2="373.5" y2="295.88" stroke="#eeeeee" stroke-width="0.8"/>
<line x1="249.5" y1="302.44" x2="373.5" y2="302.44" stroke="#eeeeee" stroke-width="0.8"/>
<line x1="249.5" y1="309.00" x2="373.5" y2="309.00" stroke="#eeeeee" stroke-width="0.8"/>
<line x1="249.5" y1="315.56" x2="373.5" y2="315.56" stroke="#eeeeee" stroke-width="0.8"/>
<line x1="249.5" y1="202.5" x2="373.5" y2="202.5" stroke="#555" stroke-width="0.8" stroke-dasharray="3,2"/>
<line x1="249.5" y1="307.5" x2="373.5" y2="307.5" stroke="#aaa" stroke-width="0.9" stroke-dasharray="3,2"/>
<line x1="249.5" y1="202.50" x2="251.5" y2="202.50" stroke="#777" stroke-width="0.7"/>
<line x1="249.5" y1="229.50" x2="251.5" y2="229.50" stroke="#777" stroke-width="0.7"/>
<line x1="249.5" y1="256.50" x2="251.5" y2="256.50" stroke="#777" stroke-width="0.7"/>
<line x1="249.5" y1="282.00" x2="251.5" y2="282.00" stroke="#777" stroke-width="0.7"/>
<line x1="249.5" y1="307.50" x2="251.5" y2="307.50" stroke="#777" stroke-width="0.7"/>
<line x1="249.5" y1="256.5" x2="373.5" y2="256.5" stroke="#333" stroke-width="1.0"/>
<g clip-path="url(#clipd)">
<rect x="252.30" y="203" width="4.40" height="104.70" fill="#ff0000"/>
<rect x="256.70" y="203" width="4.40" height="104.70" fill="#00b050"/>
<rect x="261.10" y="203" width="4.40" height="104.70" fill="#0070c0"/>
<rect x="265.75" y="203.30" width="3.90" height="104.10" fill="url(#pd03)" stroke="#ff0000" stroke-width="0.5"/>
<rect x="270.15" y="203.30" width="3.90" height="104.10" fill="url(#pd04)" stroke="#00b050" stroke-width="0.5"/>
<rect x="274.55" y="203.30" width="3.90" height="104.10" fill="url(#pd05)" stroke="#0070c0" stroke-width="0.5"/>
<rect x="283.20" y="248.3" width="4.40" height="21.30" fill="#ff0000"/>
<rect x="287.60" y="251.4" width="4.40" height="13.60" fill="#00b050"/>
<rect x="292.00" y="208.9" width="4.40" height="77.20" fill="#0070c0"/>
<rect x="296.65" y="249.20" width="3.90" height="9.30" fill="url(#pd13)" stroke="#ff0000" stroke-width="0.5"/>
<rect x="301.05" y="252.30" width="3.90" height="5.60" fill="url(#pd14)" stroke="#00b050" stroke-width="0.5"/>
<rect x="305.45" y="189.80" width="3.90" height="87.80" fill="url(#pd15)" stroke="#0070c0" stroke-width="0.5"/>
<rect x="313.50" y="244.2" width="4.40" height="24.80" fill="#ff0000"/>
<rect x="317.90" y="249.5" width="4.40" height="19.50" fill="#00b050"/>
<rect x="322.30" y="225.3" width="4.40" height="45.60" fill="#0070c0"/>
<rect x="326.95" y="248.40" width="3.90" height="12.20" fill="url(#pd23)" stroke="#ff0000" stroke-width="0.5"/>
<rect x="331.35" y="248.40" width="3.90" height="12.20" fill="url(#pd24)" stroke="#00b050" stroke-width="0.5"/>
<rect x="335.75" y="225.60" width="3.90" height="47.10" fill="url(#pd25)" stroke="#0070c0" stroke-width="0.5"/>
<rect x="344.70" y="248.6" width="4.40" height="17.00" fill="#ff0000"/>
<rect x="349.10" y="252.8" width="4.40" height="9.80" fill="#00b050"/>
<rect x="353.50" y="241.2" width="4.40" height="23.70" fill="#0070c0"/>
<rect x="358.15" y="245.40" width="3.90" height="16.40" fill="url(#pd33)" stroke="#ff0000" stroke-width="0.5"/>
<rect x="362.55" y="250.30" width="3.90" height="8.70" fill="url(#pd34)" stroke="#00b050" stroke-width="0.5"/>
<rect x="366.95" y="217.50" width="3.90" height="60.60" fill="url(#pd35)" stroke="#0070c0" stroke-width="0.5"/>
</g>
<line x1="249.5" y1="256.5" x2="373.5" y2="256.5" stroke="#333" stroke-width="1.0" stroke-opacity="0.4"/>
<rect x="249.5" y="189.5" width="124.0" height="132.0" fill="none" stroke="#777" stroke-width="1.1"/>
<line x1="413.5" y1="121.56" x2="507.5" y2="121.56" stroke="#eeeeee" stroke-width="0.8"/>
<line x1="413.5" y1="128.00" x2="507.5" y2="128.00" stroke="#eeeeee" stroke-width="0.8"/>
<line x1="413.5" y1="134.44" x2="507.5" y2="134.44" stroke="#eeeeee" stroke-width="0.8"/>
<line x1="413.5" y1="140.88" x2="507.5" y2="140.88" stroke="#eeeeee" stroke-width="0.8"/>
<line x1="413.5" y1="147.31" x2="507.5" y2="147.31" stroke="#eeeeee" stroke-width="0.8"/>
<line x1="413.5" y1="153.75" x2="507.5" y2="153.75" stroke="#eeeeee" stroke-width="0.8"/>
<line x1="413.5" y1="160.19" x2="507.5" y2="160.19" stroke="#eeeeee" stroke-width="0.8"/>
<line x1="413.5" y1="166.62" x2="507.5" y2="166.62" stroke="#eeeeee" stroke-width="0.8"/>
<line x1="413.5" y1="173.06" x2="507.5" y2="173.06" stroke="#eeeeee" stroke-width="0.8"/>
<line x1="413.5" y1="179.50" x2="507.5" y2="179.50" stroke="#eeeeee" stroke-width="0.8"/>
<line x1="413.5" y1="185.94" x2="507.5" y2="185.94" stroke="#eeeeee" stroke-width="0.8"/>
<line x1="413.5" y1="192.38" x2="507.5" y2="192.38" stroke="#eeeeee" stroke-width="0.8"/>
<line x1="413.5" y1="198.81" x2="507.5" y2="198.81" stroke="#eeeeee" stroke-width="0.8"/>
<line x1="413.5" y1="205.25" x2="507.5" y2="205.25" stroke="#eeeeee" stroke-width="0.8"/>
<line x1="413.5" y1="211.69" x2="507.5" y2="211.69" stroke="#eeeeee" stroke-width="0.8"/>
<line x1="413.5" y1="218.12" x2="507.5" y2="218.12" stroke="#eeeeee" stroke-width="0.8"/>
<line x1="413.5" y1="224.56" x2="507.5" y2="224.56" stroke="#eeeeee" stroke-width="0.8"/>
<line x1="413.5" y1="231.00" x2="507.5" y2="231.00" stroke="#eeeeee" stroke-width="0.8"/>
<line x1="413.5" y1="237.44" x2="507.5" y2="237.44" stroke="#eeeeee" stroke-width="0.8"/>
<line x1="413.5" y1="127.5" x2="507.5" y2="127.5" stroke="#555" stroke-width="0.8" stroke-dasharray="3,2"/>
<line x1="413.5" y1="230.5" x2="507.5" y2="230.5" stroke="#555" stroke-width="0.9" stroke-dasharray="3,2"/>
<line x1="413.5" y1="121.56" x2="415.5" y2="121.56" stroke="#777" stroke-width="0.7"/>
<line x1="413.5" y1="128.00" x2="415.5" y2="128.00" stroke="#777" stroke-width="0.7"/>
<line x1="413.5" y1="134.44" x2="415.5" y2="134.44" stroke="#777" stroke-width="0.7"/>
<line x1="413.5" y1="140.88" x2="415.5" y2="140.88" stroke="#777" stroke-width="0.7"/>
<line x1="413.5" y1="147.31" x2="415.5" y2="147.31" stroke="#777" stroke-width="0.7"/>
<line x1="413.5" y1="153.75" x2="415.5" y2="153.75" stroke="#777" stroke-width="0.7"/>
<line x1="413.5" y1="160.19" x2="415.5" y2="160.19" stroke="#777" stroke-width="0.7"/>
<line x1="413.5" y1="166.62" x2="415.5" y2="166.62" stroke="#777" stroke-width="0.7"/>
<line x1="413.5" y1="173.06" x2="415.5" y2="173.06" stroke="#777" stroke-width="0.7"/>
<line x1="413.5" y1="179.50" x2="415.5" y2="179.50" stroke="#777" stroke-width="0.7"/>
<line x1="413.5" y1="185.94" x2="415.5" y2="185.94" stroke="#777" stroke-width="0.7"/>
<line x1="413.5" y1="192.38" x2="415.5" y2="192.38" stroke="#777" stroke-width="0.7"/>
<line x1="413.5" y1="198.81" x2="415.5" y2="198.81" stroke="#777" stroke-width="0.7"/>
<line x1="413.5" y1="205.25" x2="415.5" y2="205.25" stroke="#777" stroke-width="0.7"/>
<line x1="413.5" y1="211.69" x2="415.5" y2="211.69" stroke="#777" stroke-width="0.7"/>
<line x1="413.5" y1="218.12" x2="415.5" y2="218.12" stroke="#777" stroke-width="0.7"/>
<line x1="413.5" y1="224.56" x2="415.5" y2="224.56" stroke="#777" stroke-width="0.7"/>
<line x1="413.5" y1="231.00" x2="415.5" y2="231.00" stroke="#777" stroke-width="0.7"/>
<line x1="413.5" y1="237.44" x2="415.5" y2="237.44" stroke="#777" stroke-width="0.7"/>
<line x1="413.5" y1="127.50" x2="415.5" y2="127.50" stroke="#777" stroke-width="0.7"/>
<line x1="413.5" y1="230.50" x2="415.5" y2="230.50" stroke="#777" stroke-width="0.7"/>
<line x1="413.5" y1="179.5" x2="507.5" y2="179.5" stroke="#222" stroke-width="1.0"/>
<g clip-path="url(#clipe)">
<rect x="415.90" y="127.2" width="4.55" height="103.20" fill="#ff0000"/>
<rect x="420.45" y="127.2" width="4.55" height="103.20" fill="#00b050"/>
<rect x="425.00" y="127.2" width="4.55" height="103.20" fill="#0070c0"/>
<rect x="429.80" y="127.50" width="4.05" height="102.60" fill="url(#pe03)" stroke="#ff0000" stroke-width="0.5"/>
<rect x="434.35" y="127.50" width="4.05" height="102.60" fill="url(#pe04)" stroke="#00b050" stroke-width="0.5"/>
<rect x="438.90" y="127.50" width="4.05" height="102.60" fill="url(#pe05)" stroke="#0070c0" stroke-width="0.5"/>
<rect x="447.00" y="127.9" width="4.55" height="103.80" fill="#ff0000"/>
<rect x="451.55" y="114.5" width="4.55" height="129.00" fill="#00b050"/>
<rect x="456.10" y="132.6" width="4.55" height="95.30" fill="#0070c0"/>
<rect x="460.90" y="124.60" width="4.05" height="103.70" fill="url(#pe13)" stroke="#ff0000" stroke-width="0.5"/>
<rect x="465.45" y="134.40" width="4.05" height="86.00" fill="url(#pe14)" stroke="#00b050" stroke-width="0.5"/>
<rect x="470.00" y="131.30" width="4.05" height="95.90" fill="url(#pe15)" stroke="#0070c0" stroke-width="0.5"/>
<rect x="478.00" y="133.1" width="4.55" height="93.80" fill="#ff0000"/>
<rect x="482.55" y="133.8" width="4.55" height="90.00" fill="#00b050"/>
<rect x="487.10" y="140" width="4.55" height="87.90" fill="#0070c0"/>
<rect x="491.90" y="132.00" width="4.05" height="88.40" fill="url(#pe23)" stroke="#ff0000" stroke-width="0.5"/>
<rect x="496.45" y="138.20" width="4.05" height="79.10" fill="url(#pe24)" stroke="#00b050" stroke-width="0.5"/>
<rect x="501.00" y="147.50" width="4.05" height="59.00" fill="url(#pe25)" stroke="#0070c0" stroke-width="0.5"/>
</g>
<line x1="413.5" y1="179.5" x2="507.5" y2="179.5" stroke="#222" stroke-width="1.0" stroke-opacity="0.25"/>
<rect x="413.5" y="114.5" width="94.0" height="129.0" fill="none" stroke="#777" stroke-width="1.1"/>
<line x1="591.5" y1="120.00" x2="683.5" y2="120.00" stroke="#eeeeee" stroke-width="0.8"/>
<line x1="591.5" y1="126.50" x2="683.5" y2="126.50" stroke="#eeeeee" stroke-width="0.8"/>
<line x1="591.5" y1="133.00" x2="683.5" y2="133.00" stroke="#eeeeee" stroke-width="0.8"/>
<line x1="591.5" y1="139.50" x2="683.5" y2="139.50" stroke="#eeeeee" stroke-width="0.8"/>
<line x1="591.5" y1="146.00" x2="683.5" y2="146.00" stroke="#eeeeee" stroke-width="0.8"/>
<line x1="591.5" y1="152.50" x2="683.5" y2="152.50" stroke="#eeeeee" stroke-width="0.8"/>
<line x1="591.5" y1="159.00" x2="683.5" y2="159.00" stroke="#eeeeee" stroke-width="0.8"/>
<line x1="591.5" y1="165.50" x2="683.5" y2="165.50" stroke="#eeeeee" stroke-width="0.8"/>
<line x1="591.5" y1="172.00" x2="683.5" y2="172.00" stroke="#eeeeee" stroke-width="0.8"/>
<line x1="591.5" y1="178.50" x2="683.5" y2="178.50" stroke="#eeeeee" stroke-width="0.8"/>
<line x1="591.5" y1="185.00" x2="683.5" y2="185.00" stroke="#eeeeee" stroke-width="0.8"/>
<line x1="591.5" y1="191.50" x2="683.5" y2="191.50" stroke="#eeeeee" stroke-width="0.8"/>
<line x1="591.5" y1="198.00" x2="683.5" y2="198.00" stroke="#eeeeee" stroke-width="0.8"/>
<line x1="591.5" y1="204.50" x2="683.5" y2="204.50" stroke="#eeeeee" stroke-width="0.8"/>
<line x1="591.5" y1="211.00" x2="683.5" y2="211.00" stroke="#eeeeee" stroke-width="0.8"/>
<line x1="591.5" y1="217.50" x2="683.5" y2="217.50" stroke="#eeeeee" stroke-width="0.8"/>
<line x1="591.5" y1="224.00" x2="683.5" y2="224.00" stroke="#eeeeee" stroke-width="0.8"/>
<line x1="591.5" y1="230.50" x2="683.5" y2="230.50" stroke="#eeeeee" stroke-width="0.8"/>
<line x1="591.5" y1="237.00" x2="683.5" y2="237.00" stroke="#eeeeee" stroke-width="0.8"/>
<line x1="591.5" y1="126.5" x2="683.5" y2="126.5" stroke="#555" stroke-width="0.8" stroke-dasharray="3,2"/>
<line x1="591.5" y1="230.5" x2="683.5" y2="230.5" stroke="#aaa" stroke-width="0.9" stroke-dasharray="3,2"/>
<line x1="591.5" y1="120.00" x2="593.5" y2="120.00" stroke="#777" stroke-width="0.7"/>
<line x1="591.5" y1="126.50" x2="593.5" y2="126.50" stroke="#777" stroke-width="0.7"/>
<line x1="591.5" y1="133.00" x2="593.5" y2="133.00" stroke="#777" stroke-width="0.7"/>
<line x1="591.5" y1="139.50" x2="593.5" y2="139.50" stroke="#777" stroke-width="0.7"/>
<line x1="591.5" y1="146.00" x2="593.5" y2="146.00" stroke="#777" stroke-width="0.7"/>
<line x1="591.5" y1="152.50" x2="593.5" y2="152.50" stroke="#777" stroke-width="0.7"/>
<line x1="591.5" y1="159.00" x2="593.5" y2="159.00" stroke="#777" stroke-width="0.7"/>
<line x1="591.5" y1="165.50" x2="593.5" y2="165.50" stroke="#777" stroke-width="0.7"/>
<line x1="591.5" y1="172.00" x2="593.5" y2="172.00" stroke="#777" stroke-width="0.7"/>
<line x1="591.5" y1="178.50" x2="593.5" y2="178.50" stroke="#777" stroke-width="0.7"/>
<line x1="591.5" y1="185.00" x2="593.5" y2="185.00" stroke="#777" stroke-width="0.7"/>
<line x1="591.5" y1="191.50" x2="593.5" y2="191.50" stroke="#777" stroke-width="0.7"/>
<line x1="591.5" y1="198.00" x2="593.5" y2="198.00" stroke="#777" stroke-width="0.7"/>
<line x1="591.5" y1="204.50" x2="593.5" y2="204.50" stroke="#777" stroke-width="0.7"/>
<line x1="591.5" y1="211.00" x2="593.5" y2="211.00" stroke="#777" stroke-width="0.7"/>
<line x1="591.5" y1="217.50" x2="593.5" y2="217.50" stroke="#777" stroke-width="0.7"/>
<line x1="591.5" y1="224.00" x2="593.5" y2="224.00" stroke="#777" stroke-width="0.7"/>
<line x1="591.5" y1="230.50" x2="593.5" y2="230.50" stroke="#777" stroke-width="0.7"/>
<line x1="591.5" y1="237.00" x2="593.5" y2="237.00" stroke="#777" stroke-width="0.7"/>
<line x1="591.5" y1="126.50" x2="593.5" y2="126.50" stroke="#777" stroke-width="0.7"/>
<line x1="591.5" y1="230.50" x2="593.5" y2="230.50" stroke="#777" stroke-width="0.7"/>
<line x1="591.5" y1="178.5" x2="683.5" y2="178.5" stroke="#222" stroke-width="1.0"/>
<g clip-path="url(#clipf)">
<rect x="593.80" y="126.2" width="4.50" height="104.00" fill="#ff0000"/>
<rect x="598.30" y="126.2" width="4.50" height="104.00" fill="#00b050"/>
<rect x="602.80" y="126.2" width="4.50" height="104.00" fill="#0070c0"/>
<rect x="607.55" y="126.50" width="4.00" height="103.40" fill="url(#pf03)" stroke="#ff0000" stroke-width="0.5"/>
<rect x="612.05" y="126.50" width="4.00" height="103.40" fill="url(#pf04)" stroke="#00b050" stroke-width="0.5"/>
<rect x="616.55" y="126.50" width="4.00" height="103.40" fill="url(#pf05)" stroke="#0070c0" stroke-width="0.5"/>
<rect x="625.00" y="131.4" width="4.50" height="92.30" fill="#ff0000"/>
<rect x="629.50" y="125.2" width="4.50" height="79.50" fill="#00b050"/>
<rect x="634.00" y="132.4" width="4.50" height="93.40" fill="#0070c0"/>
<rect x="638.75" y="128.60" width="4.00" height="97.50" fill="url(#pf13)" stroke="#ff0000" stroke-width="0.5"/>
<rect x="643.25" y="133.30" width="4.00" height="62.90" fill="url(#pf14)" stroke="#00b050" stroke-width="0.5"/>
<rect x="647.75" y="126.10" width="4.00" height="107.70" fill="url(#pf15)" stroke="#0070c0" stroke-width="0.5"/>
<rect x="655.80" y="136.2" width="4.50" height="84.40" fill="#ff0000"/>
<rect x="660.30" y="122.4" width="4.50" height="74.10" fill="#00b050"/>
<rect x="664.80" y="136.2" width="4.50" height="86.10" fill="#0070c0"/>
<rect x="669.55" y="140.70" width="4.00" height="78.00" fill="url(#pf23)" stroke="#ff0000" stroke-width="0.5"/>
<rect x="674.05" y="144.80" width="4.00" height="49.70" fill="url(#pf24)" stroke="#00b050" stroke-width="0.5"/>
<rect x="678.55" y="150.40" width="4.00" height="58.60" fill="url(#pf25)" stroke="#0070c0" stroke-width="0.5"/>
</g>
<line x1="591.5" y1="178.5" x2="683.5" y2="178.5" stroke="#222" stroke-width="1.0" stroke-opacity="0.5"/>
<rect x="591.5" y="113.5" width="92.0" height="130.0" fill="none" stroke="#777" stroke-width="1.1"/>
<text x="22.0" y="53.1" font-size="7.4" font-weight="normal" fill="#111" text-anchor="middle" transform="rotate(-90 22.0 53.1)">100</text>
<text x="22.0" y="80.1" font-size="7.4" font-weight="normal" fill="#111" text-anchor="middle" transform="rotate(-90 22.0 80.1)">50</text>
<text x="22.0" y="107.1" font-size="7.4" font-weight="bold" fill="#111" text-anchor="middle" transform="rotate(-90 22.0 107.1)">0</text>
<text x="22.0" y="133.1" font-size="7.4" font-weight="normal" fill="#111" text-anchor="middle" transform="rotate(-90 22.0 133.1)">50</text>
<text x="22.0" y="159.1" font-size="7.4" font-weight="normal" fill="#111" text-anchor="middle" transform="rotate(-90 22.0 159.1)">100</text>
<text x="22.0" y="203.1" font-size="7.4" font-weight="normal" fill="#111" text-anchor="middle" transform="rotate(-90 22.0 203.1)">100</text>
<text x="22.0" y="229.6" font-size="7.4" font-weight="normal" fill="#111" text-anchor="middle" transform="rotate(-90 22.0 229.6)">50</text>
<text x="22.0" y="256.1" font-size="7.4" font-weight="bold" fill="#111" text-anchor="middle" transform="rotate(-90 22.0 256.1)">0</text>
<text x="22.0" y="282.1" font-size="7.4" font-weight="normal" fill="#111" text-anchor="middle" transform="rotate(-90 22.0 282.1)">50</text>
<text x="22.0" y="308.1" font-size="7.4" font-weight="normal" fill="#111" text-anchor="middle" transform="rotate(-90 22.0 308.1)">100</text>
<text x="243.70000000000002" y="53.1" font-size="7.4" font-weight="normal" fill="#111" text-anchor="middle" transform="rotate(-90 243.70000000000002 53.1)">100</text>
<text x="243.70000000000002" y="79.6" font-size="7.4" font-weight="normal" fill="#111" text-anchor="middle" transform="rotate(-90 243.70000000000002 79.6)">50</text>
<text x="243.70000000000002" y="106.1" font-size="7.4" font-weight="bold" fill="#111" text-anchor="middle" transform="rotate(-90 243.70000000000002 106.1)">0</text>
<text x="243.70000000000002" y="132.1" font-size="7.4" font-weight="normal" fill="#111" text-anchor="middle" transform="rotate(-90 243.70000000000002 132.1)">50</text>
<text x="243.70000000000002" y="158.1" font-size="7.4" font-weight="normal" fill="#111" text-anchor="middle" transform="rotate(-90 243.70000000000002 158.1)">100</text>
<text x="243.70000000000002" y="203.1" font-size="7.4" font-weight="normal" fill="#111" text-anchor="middle" transform="rotate(-90 243.70000000000002 203.1)">100</text>
<text x="243.70000000000002" y="230.1" font-size="7.4" font-weight="normal" fill="#111" text-anchor="middle" transform="rotate(-90 243.70000000000002 230.1)">50</text>
<text x="243.70000000000002" y="257.1" font-size="7.4" font-weight="bold" fill="#111" text-anchor="middle" transform="rotate(-90 243.70000000000002 257.1)">0</text>
<text x="243.70000000000002" y="282.6" font-size="7.4" font-weight="normal" fill="#111" text-anchor="middle" transform="rotate(-90 243.70000000000002 282.6)">50</text>
<text x="243.70000000000002" y="308.1" font-size="7.4" font-weight="normal" fill="#111" text-anchor="middle" transform="rotate(-90 243.70000000000002 308.1)">100</text>
<text x="406.8" y="128.1" font-size="7.4" font-weight="normal" fill="#111" text-anchor="middle" transform="rotate(-90 406.8 128.1)">100</text>
<text x="406.8" y="154.1" font-size="7.4" font-weight="normal" fill="#111" text-anchor="middle" transform="rotate(-90 406.8 154.1)">50</text>
<text x="406.8" y="180.1" font-size="7.4" font-weight="bold" fill="#111" text-anchor="middle" transform="rotate(-90 406.8 180.1)">0</text>
<text x="406.8" y="205.6" font-size="7.4" font-weight="normal" fill="#111" text-anchor="middle" transform="rotate(-90 406.8 205.6)">50</text>
<text x="406.8" y="231.1" font-size="7.4" font-weight="normal" fill="#111" text-anchor="middle" transform="rotate(-90 406.8 231.1)">100</text>
<text x="585.8" y="127.1" font-size="7.4" font-weight="normal" fill="#111" text-anchor="middle" transform="rotate(-90 585.8 127.1)">100</text>
<text x="585.8" y="153.1" font-size="7.4" font-weight="normal" fill="#111" text-anchor="middle" transform="rotate(-90 585.8 153.1)">50</text>
<text x="585.8" y="179.1" font-size="7.4" font-weight="bold" fill="#111" text-anchor="middle" transform="rotate(-90 585.8 179.1)">0</text>
<text x="585.8" y="205.1" font-size="7.4" font-weight="normal" fill="#111" text-anchor="middle" transform="rotate(-90 585.8 205.1)">50</text>
<text x="585.8" y="231.1" font-size="7.4" font-weight="normal" fill="#111" text-anchor="middle" transform="rotate(-90 585.8 231.1)">100</text>
<text x="92.5" y="35.3" font-size="10" font-style="italic" font-weight="normal" fill="#222" text-anchor="middle">a) right subROI</text>
<text x="311.3" y="36.1" font-size="10" font-style="italic" font-weight="normal" fill="#222" text-anchor="middle">b) left subROI</text>
<text x="91.7" y="185.4" font-size="10" font-style="italic" font-weight="normal" fill="#222" text-anchor="middle">c) right subROI</text>
<text x="310.4" y="185.4" font-size="10" font-style="italic" font-weight="normal" fill="#222" text-anchor="middle">d) left subROI</text>
<text x="460.6" y="107.4" font-size="10" font-style="italic" font-weight="normal" fill="#222" text-anchor="middle">e) left rod</text>
<text x="638.5" y="107.2" font-size="10" font-style="italic" font-weight="normal" fill="#222" text-anchor="middle">f) right rod</text>
<text x="7.3" y="103.7" font-size="9.35" font-style="italic" font-weight="bold" fill="#000" text-anchor="middle" transform="rotate(-90 7.3 103.7)">Strains on L4 VB (% of Intact)</text>
<text x="7.6" y="253.2" font-size="9.36" font-style="italic" font-weight="bold" fill="#000" text-anchor="middle" transform="rotate(-90 7.6 253.2)">Strains on L4-L5 IVD (% of Intact)</text>
<text x="394.2" y="178.6" font-size="9.3" font-style="italic" font-weight="bold" fill="#000" text-anchor="middle" transform="rotate(-90 394.2 178.6)">Primary rods strains (% of PSO-2)</text>
<text x="46.5" y="347.3" font-size="8.7" font-style="italic" font-weight="bold" fill="#000" text-anchor="middle" transform="rotate(-90 46.5 347.3)">Intact</text>
<text x="78.2" y="347.3" font-size="8.7" font-style="italic" font-weight="bold" fill="#000" text-anchor="middle" transform="rotate(-90 78.2 347.3)">PSO-2</text>
<text x="109.9" y="347.3" font-size="8.7" font-style="italic" font-weight="bold" fill="#000" text-anchor="middle" transform="rotate(-90 109.9 347.3)">PSO-2+Cages</text>
<text x="141.1" y="347.3" font-size="8.7" font-style="italic" font-weight="bold" fill="#000" text-anchor="middle" transform="rotate(-90 141.1 347.3)">PSO-4+Cages</text>
<text x="262.9" y="347.3" font-size="8.7" font-style="italic" font-weight="bold" fill="#000" text-anchor="middle" transform="rotate(-90 262.9 347.3)">Intact</text>
<text x="295.6" y="347.3" font-size="8.7" font-style="italic" font-weight="bold" fill="#000" text-anchor="middle" transform="rotate(-90 295.6 347.3)">PSO-2</text>
<text x="327.4" y="347.3" font-size="8.7" font-style="italic" font-weight="bold" fill="#000" text-anchor="middle" transform="rotate(-90 327.4 347.3)">PSO-2+Cages</text>
<text x="358.7" y="347.3" font-size="8.7" font-style="italic" font-weight="bold" fill="#000" text-anchor="middle" transform="rotate(-90 358.7 347.3)">PSO-4+Cages</text>
<text x="434.2" y="270.7" font-size="8.7" font-style="italic" font-weight="bold" fill="#000" text-anchor="middle" transform="rotate(-90 434.2 270.7)">PSO-2</text>
<text x="464.5" y="270.7" font-size="8.7" font-style="italic" font-weight="bold" fill="#000" text-anchor="middle" transform="rotate(-90 464.5 270.7)">PSO-2+Cages</text>
<text x="495.8" y="270.7" font-size="8.7" font-style="italic" font-weight="bold" fill="#000" text-anchor="middle" transform="rotate(-90 495.8 270.7)">PSO-4+Cages</text>
<text x="612.3" y="270.7" font-size="8.7" font-style="italic" font-weight="bold" fill="#000" text-anchor="middle" transform="rotate(-90 612.3 270.7)">PSO-2</text>
<text x="643.3" y="270.7" font-size="8.7" font-style="italic" font-weight="bold" fill="#000" text-anchor="middle" transform="rotate(-90 643.3 270.7)">PSO-2+Cages</text>
<text x="674.3" y="270.7" font-size="8.7" font-style="italic" font-weight="bold" fill="#000" text-anchor="middle" transform="rotate(-90 674.3 270.7)">PSO-4+Cages</text>
<text x="169.5" y="24.7" font-size="13" font-style="italic" font-weight="normal" fill="#333" text-anchor="start">Anterior view:</text>
<line x1="169.5" y1="26.6" x2="244.7" y2="26.6" stroke="#666" stroke-width="1"/>
<text x="504" y="89.6" font-size="13" font-style="italic" font-weight="normal" fill="#333" text-anchor="start">Posterior view:</text>
<line x1="504" y1="91" x2="583.6" y2="91" stroke="#666" stroke-width="1"/>
<rect x="351.5" y="0.5" width="97" height="35.5" fill="#fff" stroke="#555" stroke-width="1.4"/>
<rect x="357.7" y="6.6" width="10.3" height="8.5" fill="#808080"/>
<rect x="357.7" y="21.7" width="10.3" height="8.8" fill="url(#pgray)" stroke="#888" stroke-width="0.7"/>
<text x="374.8" y="15.8" font-size="13.4" font-style="italic" font-weight="bold" fill="#000" text-anchor="start">Right LB</text>
<text x="374.8" y="31.5" font-size="13.2" font-style="italic" font-weight="bold" fill="#888" text-anchor="start">Left LB</text>
<line x1="380.5" y1="36" x2="380.5" y2="369" stroke="#888" stroke-width="0.8" stroke-dasharray="3,2"/>
<rect x="258" y="377.5" width="6.3" height="7" fill="#ff0000"/>
<text x="267.8" y="383.8" font-size="10" font-weight="normal" fill="#ff0000" text-anchor="start">Specimen #1</text>
<rect x="339.8" y="377.5" width="6.3" height="7" fill="#00b050"/>
<text x="350.1" y="383.8" font-size="10" font-weight="normal" fill="#00b050" text-anchor="start">Specimen #2</text>
<rect x="423.1" y="378" width="6.5" height="7" fill="#0070c0"/>
<text x="434.3" y="384" font-size="10" font-weight="normal" fill="#0070c0" text-anchor="start">Specimen #3</text>
<path d="M190.6,124.6 Q204.5,109.5 219.6,124.6" fill="none" stroke="#8a8a8a" stroke-width="1.6" stroke-dasharray="3.4,1.8"/>
<path d="M217.6,122.6 L220.8,126.4 L221.9,120.3" fill="none" stroke="#8a8a8a" stroke-width="1.4"/>
<path d="M218.8,130.2 Q205.5,114.5 192.2,129.4" fill="none" stroke="#000" stroke-width="1.7"/>
<path d="M189.3,126.8 L190.4,133.4 L195.2,129.3 Z" fill="#000" stroke="#000" stroke-width="0.9" stroke-linejoin="round"/>
<path d="M187.8,133.8 C191,132 194,131.8 198,132.4 C204,133.4 208,135.6 213,135.6 C217,135.6 219,134.6 221.6,134.2" fill="none" stroke="#aaa" stroke-width="0.8"/>
<path d="M187.8,133.8 C187.5,140 186.8,145 185.3,148.9 M221.6,134.2 C222,140 222.6,145 223.8,148.5" fill="none" stroke="#7a7a7a" stroke-width="0.8"/>
<path d="M185.3,148.9 C195,147.6 214,147.6 223.8,148.5 C231,151 231,159 225.6,161.6 C214,164.6 196,164.6 185.9,161.8 C179.5,159 179.5,151 185.3,148.9 Z" fill="none" stroke="#7a7a7a" stroke-width="0.8"/>
<path d="M185.9,161.8 C188.6,168 188.6,185 185.3,192.8 M225.6,161.6 C222.2,168 222.2,185 225.4,192.8" fill="none" stroke="#7a7a7a" stroke-width="0.8"/>
<path d="M185.3,192.8 C195,191.6 215,191.6 225.4,192.8 C231,195 231.5,205 225.4,207.2 C215,209.4 196,209.4 185.9,207.2 C180,205 180,195 185.3,192.8 Z" fill="none" stroke="#7a7a7a" stroke-width="0.8"/>
<path d="M185.9,207.2 C186.6,211 187,215 187.4,218.3 C191,216.3 194,215.6 198,216.2 C204,217.4 208,220.6 214,220.6 C218,220.6 221,219.6 223.6,219.2 C223.8,215 224.6,211 225.4,207.2" fill="none" stroke="#7a7a7a" stroke-width="0.8"/>
<rect x="191.8" y="168.1" width="12.1" height="22.7" fill="none" stroke="#ee3333" stroke-width="0.6" stroke-opacity="0.8" stroke-dasharray="1.6,0.9"/>
<rect x="203.9" y="168.1" width="11.9" height="22.7" fill="none" stroke="#ee3333" stroke-width="0.6" stroke-opacity="0.8" stroke-dasharray="1.6,0.9"/>
<rect x="189.8" y="196.1" width="14.6" height="11.8" fill="none" stroke="#ee3333" stroke-width="0.6" stroke-opacity="0.8" stroke-dasharray="1.6,0.9"/>
<rect x="204.4" y="196.1" width="14" height="11.8" fill="none" stroke="#ee3333" stroke-width="0.6" stroke-opacity="0.8" stroke-dasharray="1.6,0.9"/>
<text x="198.2" y="182.8" font-size="8.6" font-style="italic" fill="#e52020" text-anchor="middle">(a)</text>
<text x="210.2" y="182.8" font-size="8.6" font-style="italic" fill="#e52020" text-anchor="middle">(b)</text>
<text x="197.0" y="205.3" font-size="8.6" font-style="italic" fill="#e52020" text-anchor="middle">(c)</text>
<text x="211.2" y="205.3" font-size="8.6" font-style="italic" fill="#e52020" text-anchor="middle">(d)</text>
<text x="171.4" y="184.3" font-size="8.4" fill="#111" text-anchor="middle">L4</text>
<text x="171.8" y="205.1" font-size="8.4" fill="#111" text-anchor="middle">IVD</text>
<text x="172" y="219.6" font-size="8.4" fill="#999" text-anchor="middle">L5</text>
<line x1="175.5" y1="162.3" x2="185" y2="162.3" stroke="#bbb" stroke-width="0.7" stroke-dasharray="2.2,1.4"/>
<line x1="175.5" y1="193.3" x2="185" y2="193.3" stroke="#bbb" stroke-width="0.7" stroke-dasharray="2.2,1.4"/>
<line x1="176" y1="207.2" x2="185.5" y2="207.2" stroke="#bbb" stroke-width="0.7" stroke-dasharray="2.2,1.4"/>
<path d="M560.2,121.3 Q544.5,105 529.7,119.4" fill="none" stroke="#8a8a8a" stroke-width="1.6" stroke-dasharray="3.4,1.8"/>
<path d="M526.8,118.2 L527.3,123.8 L531,121.8" fill="none" stroke="#8a8a8a" stroke-width="1.4"/>
<path d="M530.2,128.7 Q544.5,110.5 557.8,126.2" fill="none" stroke="#000" stroke-width="1.7"/>
<path d="M555.4,126.4 L558.7,130.8 L560.1,124.6 Z" fill="#000" stroke="#000" stroke-width="0.9" stroke-linejoin="round"/>
<path d="M528.3,135.2 C529.5,133.6 531,133 532.5,133.6 C533.8,134.3 534.4,135.2 534.8,136.6 C535.4,139.5 536,142 537.6,143.8 C539.5,145.6 542,146.2 544.5,146.2 C547.5,146.2 550,145.6 551.6,144 C553,142 553.4,139 553.9,136.2 C554.4,134.2 556,133.4 557.6,133.8 C558.4,134 558.8,134.6 559.2,135.3" fill="none" stroke="#c4c4c4" stroke-width="0.8"/>
<path d="M534.9,139.6 L552.8,139.6" fill="none" stroke="#c4c4c4" stroke-width="0.8"/>
<path d="M530.1,148.9 C531.4,149.6 531.8,150.8 531.2,152.2 C530.2,154 529.5,156 529.4,158.5 C529.2,162 529,165.5 528.9,169 C531,168.2 533.5,167.6 535.5,167.4 C538,167 540,166.2 541.2,166.4 C542,167.4 542.4,170 543.3,171.6 C544.2,170 544.6,167.4 546,165.9 C548,165.9 550,166 551.5,166.4 C554,167 556.5,167.8 559.2,168.3 C559.7,165 560.2,161 560.2,158.6 C560,156.6 558.6,155 557.8,153.6 C557,152.2 556.8,150.8 557.4,149.6 C557.8,149 558.2,148.6 558.4,148.4" fill="none" stroke="#c4c4c4" stroke-width="0.8"/>
<path d="M529.4,177.6 C531,176.8 533,176.8 533.8,178.2 C534.6,181 535,184 535.6,186.4 C537,189.4 539.5,190.8 542.4,191.2 C546,191.4 549.5,190 551,187.6 C552.2,185 552.8,181.5 553.4,179.4 C554.5,177.4 557,177 559.7,177.4" fill="none" stroke="#c4c4c4" stroke-width="0.8"/>
<path d="M535.3,183.4 L552.6,183.4" fill="none" stroke="#c4c4c4" stroke-width="0.8"/>
<path d="M530.4,195.6 C531.6,196.4 531.8,197.6 531.2,199 C530.2,201 529.6,203 529.5,205.5 C529.4,208 529.3,210.5 529.3,213.2 C531.5,212.4 534,211.8 536,211.6 C538.5,211.2 540.5,210.4 541.6,210.6 C542.4,211.8 542.8,214 543.6,215.7 C544.5,214 545,211.6 546.3,210.2 C548.3,210.2 550.3,210.4 551.8,210.8 C554.3,211.4 556.7,212.2 559.4,212.6 C559.9,209.5 560.3,206 560.3,203.8 C560.1,201.8 558.8,200.2 558,198.8 C557.2,197.4 557,196.2 557.6,195.2 C558,194.6 558.3,194.3 558.5,194.1" fill="none" stroke="#c4c4c4" stroke-width="0.8"/>
<path d="M518.3,139.0 C516,139.6 514.8,141.6 515.2,143.0 C515.6,144.2 516.8,144.79999999999998 518.2,145.0 M570.2,139.0 C572.5,139.6 573.7,141.6 573.3,143.0 C572.9,144.2 571.7,144.79999999999998 570.3,145.0" fill="none" stroke="#c4c4c4" stroke-width="0.8"/>
<path d="M518.3,185.6 C516,186.2 514.8,188.2 515.2,189.6 C515.6,190.79999999999998 516.8,191.39999999999998 518.2,191.6 M570.2,185.6 C572.5,186.2 573.7,188.2 573.3,189.6 C572.9,190.79999999999998 571.7,191.39999999999998 570.3,191.6" fill="none" stroke="#c4c4c4" stroke-width="0.8"/>
<line x1="521.4" y1="129" x2="521.4" y2="217.5" stroke="#777" stroke-width="0.8"/>
<line x1="527.4" y1="129" x2="527.4" y2="217.5" stroke="#777" stroke-width="0.8"/>
<line x1="561.0" y1="129" x2="561.0" y2="217.5" stroke="#777" stroke-width="0.8"/>
<line x1="566.8" y1="129" x2="566.8" y2="217.5" stroke="#777" stroke-width="0.8"/>
<path d="M521.4,129 L521.8,128.2 L524.4,130.3 L527.0,128.8 L527.4,129.4" fill="none" stroke="#777" stroke-width="0.8"/>
<path d="M521.4,217.5 L522.6,218.6 L524.4,217.6 L526.1999999999999,219.2 L527.4,217.8" fill="none" stroke="#777" stroke-width="0.8"/>
<path d="M561.0,129 L561.4,128.2 L563.9,130.3 L566.4,128.8 L566.8,129.4" fill="none" stroke="#777" stroke-width="0.8"/>
<path d="M561.0,217.5 L562.2,218.6 L563.9,217.6 L565.5999999999999,219.2 L566.8,217.8" fill="none" stroke="#777" stroke-width="0.8"/>
<circle cx="524.3" cy="144.2" r="6.1" fill="#fff" stroke="#666" stroke-width="0.9"/>
<circle cx="564.1" cy="144.2" r="6.1" fill="#fff" stroke="#666" stroke-width="0.9"/>
<circle cx="524.5" cy="191.0" r="6.1" fill="#fff" stroke="#666" stroke-width="0.9"/>
<circle cx="564.2" cy="190.6" r="6.1" fill="#fff" stroke="#666" stroke-width="0.9"/>
<rect x="522.4" y="170.6" width="4" height="5.8" fill="none" stroke="#ee3333" stroke-width="0.6" stroke-dasharray="1.2,0.7"/>
<rect x="562.3" y="170.6" width="4" height="5.8" fill="none" stroke="#ee3333" stroke-width="0.6" stroke-dasharray="1.2,0.7"/>
<text x="516.2" y="176.3" font-size="8.8" font-style="italic" fill="#e52020" text-anchor="middle">(e)</text>
<text x="571.8" y="176.3" font-size="8.8" font-style="italic" fill="#e52020" text-anchor="middle">(f)</text>
</svg></body></html>
